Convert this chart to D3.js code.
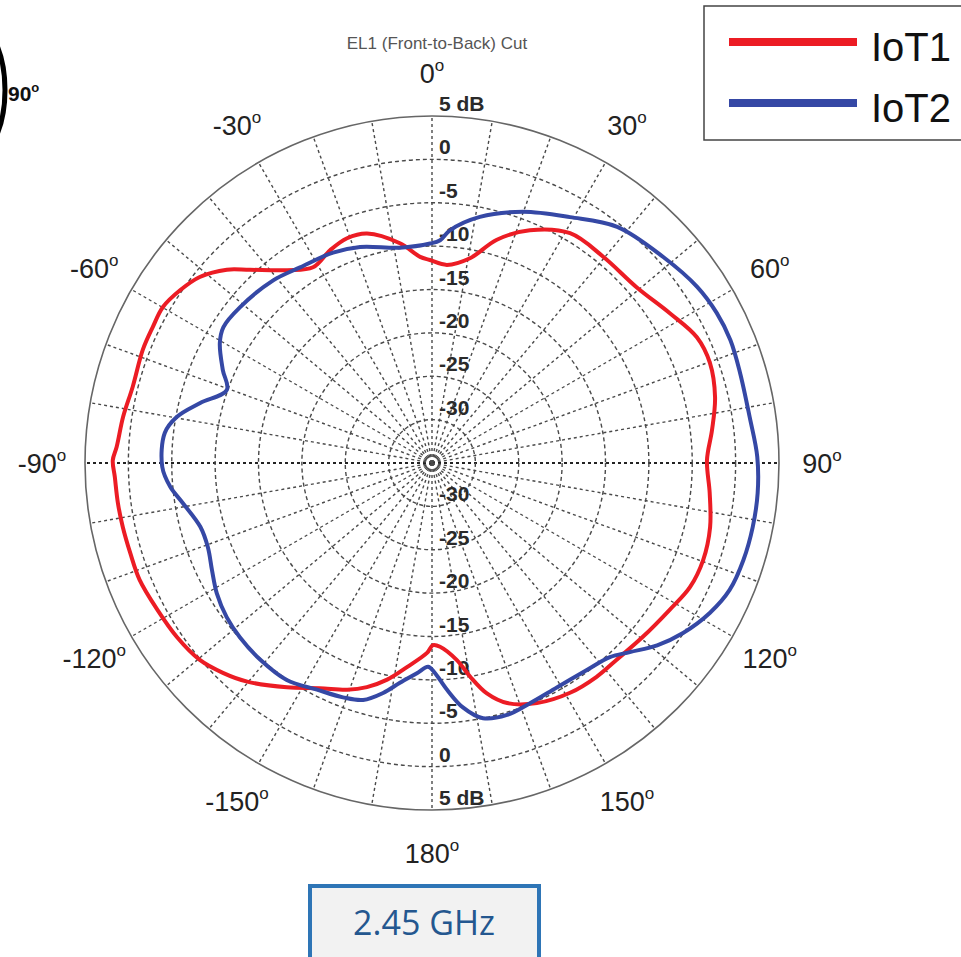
<!DOCTYPE html>
<html><head><meta charset="utf-8">
<script src="https://cdn.jsdelivr.net/npm/d3@7"></script>
<style>body{margin:0;background:#fff} svg{display:block}</style>
</head><body>
<svg id="chart" width="961" height="957"></svg>
<script>
// ---- data ----
const angleTicks = [0, 30, 60, 90, 120, 150, 180, -150, -120, -90, -60, -30];
const ringTicks = [5, 0, -5, -10, -15, -20, -25, -30];
const seriesNames = ["IoT1", "IoT2"];
const seriesColors = ["#ec1c24", "#3548a5"];
const chartTitle = "EL1 (Front-to-Back) Cut";
const freqLabel = "2.45 GHz";

const iot1Angles = [-178.5,-173,-168.3,-163.8,-159.5,-153.5,-147.1,-139.8,-135.1,-130.3,-124.3,-118.1,-111.8,-106.6,-101.7,-97.3,-92.5,-89.5,-87.1,-81.5,-75.7,-68.6,-64,-59.9,-55.5,-51.3,-46.7,-43.3,-36.9,-31.3,-25.6,-20.7,-15.8,-8.3,-3.3,-0.6,4.3,10.5,16.2,22.8,31,39.7,49.4,57.8,64.6,70.2,76.9,83.3,89.4,96.2,103,109.7,115.7,121.7,129.5,136.8,142.4,149,156.4,162.6,166.6,169.9,172.8,177.5,179.7];
const iot1Db = [-13.1,-11.3,-9.5,-8.1,-7.1,-6.0,-4.2,-2.0,-0.85,0.1,0.6,0.9,1.3,1.3,1.4,1.5,1.6,1.8,1.4,1.0,0.6,0.8,0.8,0.85,0.2,-0.7,-2.5,-4.4,-7.2,-8.6,-7.8,-7.3,-7.5,-9.4,-11.2,-11.6,-12.1,-11.0,-8.2,-5.9,-4.1,-4.1,-3.9,-2.6,-1.2,-0.95,-1.5,-2.5,-3.3,-2.8,-2.1,-1.8,-2.0,-2.8,-3.5,-3.9,-3.9,-4.1,-4.8,-6.0,-7.7,-10.0,-12.1,-13.8,-14.0];

const iot2Angles = [-178.9,-175.9,-171.7,-168,-163.8,-159.2,-153.1,-146.2,-138.9,-132.2,-126.9,-121.2,-115.9,-110.6,-105.4,-99.1,-95.2,-90.8,-83.6,-79.8,-75.5,-70.4,-66,-60.5,-56.9,-50.9,-41,-34,-25.2,-18.4,-8.5,-0.5,2.1,4.4,11,19.9,29.3,38.1,48.3,56.4,62.2,67.6,73.7,81.8,88.9,95.3,101.3,107.3,113.1,118.3,124.1,129,133.7,137.5,143.2,150.8,157.8,163.4,168.7,172.8,176.2,179.4];
const iot2Db = [-11.5,-10.7,-9.4,-7.9,-6.55,-6.1,-5.7,-4.9,-4.9,-5.1,-5.4,-6.0,-6.8,-7.4,-7.3,-5.9,-4.7,-3.9,-4.0,-5.1,-7.4,-9.9,-8.6,-6.9,-6.3,-6.5,-7.1,-7.8,-8.2,-8.75,-9.9,-9.7,-9.3,-8.1,-6.1,-4.2,-2.5,-0.4,0.7,1.7,2.1,2.2,2.0,2.0,2.5,2.7,2.7,2.6,2.3,1.4,-0.05,-1.6,-3.45,-4.65,-5.2,-5.4,-5.1,-4.7,-5.0,-6.6,-8.8,-10.9];

// ---- layout ----
const svg = d3.select("#chart");
const cx = 432, cy = 463, R = 347;
const FONT = "'Liberation Sans', Arial, sans-serif";
const r = d3.scaleLinear().domain([-35, 5]).range([0, R]);
const rad = d => d * Math.PI / 180;

const g = svg.append("g").attr("transform", `translate(${cx},${cy})`);

// spokes every 10 degrees
const spokes = d3.range(0, 360, 10);
g.selectAll("line.spoke").data(spokes).join("line")
  .attr("class", "spoke")
  .attr("x1", 0).attr("y1", 0)
  .attr("x2", d => r(5) * Math.sin(rad(d)))
  .attr("y2", d => -r(5) * Math.cos(rad(d)))
  .attr("stroke", d => (d % 90 === 0 && d % 180 !== 0) ? "#222" : "#4a4a4a")
  .attr("stroke-width", d => (d % 90 === 0 && d % 180 !== 0) ? 1.8 : 1.4)
  .attr("stroke-dasharray", "3,3");

// dashed rings
g.selectAll("circle.ring").data(ringTicks.filter(v => v < 5)).join("circle")
  .attr("class", "ring")
  .attr("r", d => r(d))
  .attr("fill", "none")
  .attr("stroke", "#4a4a4a")
  .attr("stroke-width", 1.4)
  .attr("stroke-dasharray", "4,3");

// outer circle
g.append("circle").attr("r", r(5)).attr("fill", "none")
  .attr("stroke", "#666").attr("stroke-width", 1.6);

// radial labels (top and bottom)
const radLabel = d => d === 5 ? "5 dB" : String(d);
[-1, 1].forEach(sgn => {
  g.selectAll(null).data(ringTicks).join("text")
    .attr("x", 7)
    .attr("y", d => sgn * r(d) - 5)
    .attr("font-family", FONT)
    .attr("font-size", 21)
    .attr("font-weight", "bold")
    .attr("fill", "#2a2a2a")
    .text(radLabel);
});

// angle labels
const angR = 390;
const at = g.selectAll("text.ang").data(angleTicks).join("text")
  .attr("class", "ang")
  .attr("x", d => angR * Math.sin(rad(d)))
  .attr("y", d => -angR * Math.cos(rad(d)) + 10)
  .attr("text-anchor", "middle")
  .attr("font-family", FONT)
  .attr("font-size", 27)
  .attr("fill", "#222");
at.append("tspan").text(d => String(d));
at.append("tspan").attr("font-size", 17).attr("dy", -12).text("o");

// curves
const line = d3.lineRadial()
  .angle(d => rad(d[0]))
  .radius(d => r(d[1]))
  .curve(d3.curveCatmullRomClosed.alpha(0.5));

const series = [
  iot1Angles.map((a, i) => [a, iot1Db[i]]),
  iot2Angles.map((a, i) => [a, iot2Db[i]])
];
series.forEach((s, i) => {
  g.append("path").attr("d", line(s))
    .attr("fill", "none")
    .attr("stroke", seriesColors[i])
    .attr("stroke-width", 4)
    .attr("stroke-linejoin", "round");
});

// title
svg.append("text").attr("x", 437).attr("y", 49)
  .attr("text-anchor", "middle")
  .attr("font-family", FONT).attr("font-size", 17)
  .attr("fill", "#555").text(chartTitle);

// legend
const lg = svg.append("g");
lg.append("rect").attr("x", 704).attr("y", 6).attr("width", 290).attr("height", 134)
  .attr("fill", "#fff").attr("stroke", "#444").attr("stroke-width", 1.5);
const legY = [42, 103];
seriesNames.forEach((n, i) => {
  lg.append("line").attr("x1", 729).attr("x2", 857)
    .attr("y1", legY[i]).attr("y2", legY[i])
    .attr("stroke", seriesColors[i]).attr("stroke-width", 8);
  lg.append("text").attr("x", 871).attr("y", legY[i] + 19)
    .attr("font-family", FONT).attr("font-size", 40)
    .attr("fill", "#111").text(n);
});

// top-left fragment: ellipse and 90° label
svg.append("ellipse").attr("cx", -30).attr("cy", 90).attr("rx", 35).attr("ry", 70)
  .attr("fill", "none").attr("stroke", "#000").attr("stroke-width", 5);
const t90 = svg.append("text").attr("x", 8).attr("y", 101)
  .attr("font-family", FONT).attr("font-size", 21).attr("font-weight", "bold").attr("fill", "#111");
t90.append("tspan").text("90");
t90.append("tspan").attr("font-size", 13).attr("dy", -9).text("o");

// frequency box
svg.append("rect").attr("x", 310).attr("y", 886).attr("width", 229).attr("height", 90)
  .attr("fill", "#f2f2f2").attr("stroke", "#2e75b6").attr("stroke-width", 4);
svg.append("text").attr("x", 424).attr("y", 935)
  .attr("text-anchor", "middle")
  .attr("font-family", "'Open Sans', 'Noto Sans', sans-serif").attr("font-size", 34)
  .attr("fill", "#24578f").text(freqLabel);
</script>
</body></html>
